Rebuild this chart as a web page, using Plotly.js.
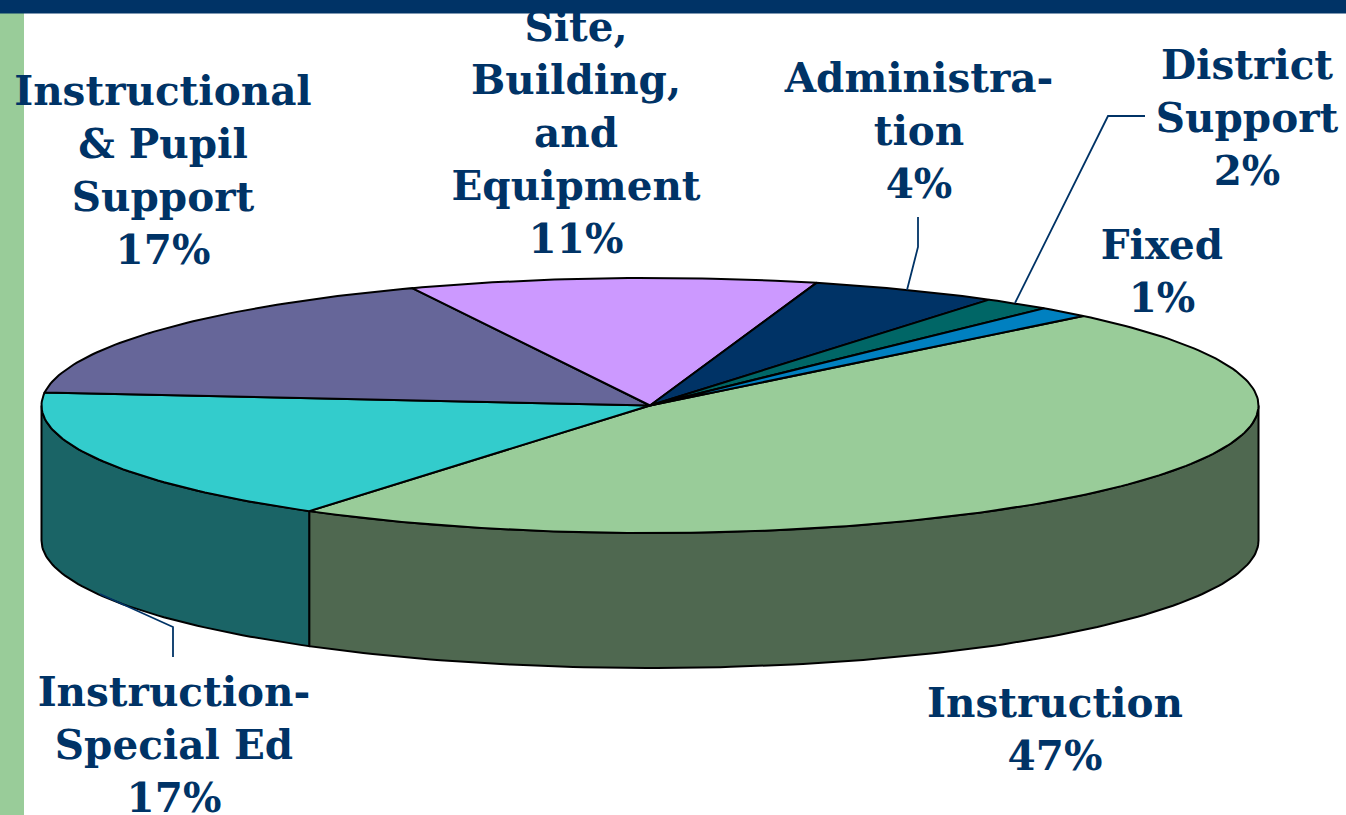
<!DOCTYPE html>
<html>
<head>
<meta charset="utf-8">
<script src="https://cdn.plot.ly/plotly-3.0.1.min.js"></script>
<style>html,body{margin:0;padding:0;background:#fff;overflow:hidden}#chart{width:1346px;height:815px}</style>
</head>
<body>
<div id="chart"></div>
<script>
// Slice data, clockwise from the right-hand side of the pie. Sizes read from the drawn wedges.
var categories = ["Instruction","Instruction-Special Ed","Instructional & Pupil Support","Site, Building, and Equipment","Administration","District Support","Fixed"];
var values = [46.85, 17.15, 17, 10.8, 5, 1.8, 1.4];
var topColors = ["#99CC99","#33CCCC","#666699","#CC99FF","#003366","#006666","#0080C0"];
var sideColors = ["#4F6850","#1A6466","#333366","#664D80","#001A33","#003333","#004060"];

// Label text, one array per label
var labelLines = [
  ["Instruction","47%"],
  ["Instruction-","Special Ed","17%"],
  ["Instructional","& Pupil","Support","17%"],
  ["Site,","Building,","and","Equipment","11%"],
  ["Administra-","tion","4%"],
  ["District","Support","2%"],
  ["Fixed","1%"]
];
var labelX = [1055, 174, 163, 576, 919, 1247, 1162];
var labelY = [707, 696, 95, 31, 82, 69, 249];
var lineStep = 53;

// Leader lines
var leaderX = [[173,173,100],[918,918,907],[1145,1108,1015]];
var leaderY = [[657,627,594],[217,247,290],[116,116,303]];

// Pie projection
var cx = 650, cy = 405.5, rx = 608.5, ry = 127.5, depth = 135, startAngle = 44.6;
var ink = "#003366";

function pt(deg, dy){
  var r = deg*Math.PI/180;
  return [cx + rx*Math.cos(r), cy - ry*Math.sin(r) + (dy||0)];
}
function arc(a, b, dy){
  var out = [], n = Math.max(2, Math.ceil(Math.abs(a-b)));
  for (var i=0;i<=n;i++) out.push(pt(a+(b-a)*i/n, dy));
  return out;
}
function polyTrace(points, fill){
  return {type:"scatter", mode:"lines", x:points.map(function(p){return p[0];}), y:points.map(function(p){return p[1];}),
    fill:"toself", fillcolor:fill, line:{color:"#000000",width:2}, hoverinfo:"skip"};
}

var total = values.reduce(function(s,v){return s+v;},0);
var sideTraces = [], topTraces = [], a = startAngle;
values.forEach(function(v,i){
  var b = a - v/total*360;
  topTraces.push(polyTrace([[cx,cy]].concat(arc(a,b)).concat([[cx,cy]]), topColors[i]));
  var s = Math.min(a,0), e = Math.max(b,-180);
  if (s > e) sideTraces.push(polyTrace(arc(s,e).concat(arc(e,s,depth)).concat([pt(s)]), sideColors[i]));
  a = b;
});

var leaderTraces = leaderX.map(function(xs,i){
  return {type:"scatter", mode:"lines", x:xs, y:leaderY[i], line:{color:ink,width:1.8}, hoverinfo:"skip"};
});

var tx=[], ty=[], tt=[];
labelLines.forEach(function(lines,i){
  lines.forEach(function(t,j){ tx.push(labelX[i]); ty.push(labelY[i]+j*lineStep); tt.push(t); });
});
var textTrace = {type:"scatter", mode:"text", x:tx, y:ty, text:tt, textposition:"middle center",
  textfont:{family:"'DejaVu Serif', serif", size:40.5, color:ink, weight:700}, hoverinfo:"skip", cliponaxis:false};

var layout = {
  width:1346, height:815, margin:{l:0,r:0,t:0,b:0}, showlegend:false,
  paper_bgcolor:"#ffffff", plot_bgcolor:"#ffffff",
  xaxis:{range:[0,1346], visible:false, fixedrange:true},
  yaxis:{range:[815,0], visible:false, fixedrange:true},
  shapes:[
    {type:"rect", layer:"below", x0:0, x1:24, y0:0, y1:815, fillcolor:"#99CC99", line:{width:0}},
    {type:"rect", layer:"above", x0:0, x1:1346, y0:0, y1:13.5, fillcolor:"#003366", line:{width:0}}
  ]
};
Plotly.newPlot("chart", sideTraces.concat(topTraces, leaderTraces, [textTrace]), layout, {displayModeBar:false, staticPlot:true});
</script>
</body>
</html>
